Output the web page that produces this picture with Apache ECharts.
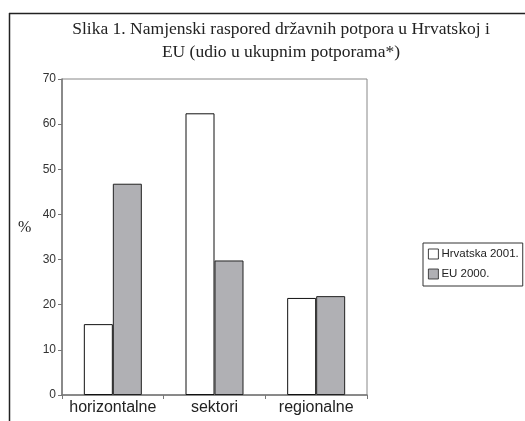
<!DOCTYPE html>
<html>
<head>
<meta charset="utf-8">
<script src="https://cdn.jsdelivr.net/npm/echarts@6/dist/echarts.min.js"></script>
<style>
  html, body { margin: 0; padding: 0; background: #fff; }
  #chart { width: 525px; height: 421px; }
</style>
</head>
<body>
<div id="chart"></div>
<script>
// Namjenski raspored državnih potpora (udio u ukupnim potporama, %)
const categories = ['horizontalne', 'sektori', 'regionalne'];
const hrvatska2001 = [15.7, 62.4, 21.5];
const eu2000 = [46.8, 29.8, 21.9];
const yTicks = { min: 0, max: 70, interval: 10 };

const chart = echarts.init(document.getElementById('chart'));
chart.setOption({
  backgroundColor: '#fff',
  animation: false,
  title: {
    text: 'Slika 1. Namjenski raspored državnih potpora u Hrvatskoj i\nEU (udio u ukupnim potporama*)',
    left: 276,
    textAlign: 'center',
    top: 13,
    textStyle: {
      fontFamily: 'Liberation Serif',
      fontWeight: 'normal',
      fontSize: 17.5,
      lineHeight: 23,
      color: '#222'
    }
  },
  graphic: [
    { type: 'line', shape: { x1: 9, y1: 13.5, x2: 525, y2: 13.5 }, style: { stroke: '#222', lineWidth: 1.5 } },
    { type: 'line', shape: { x1: 9.5, y1: 13, x2: 9.5, y2: 421 }, style: { stroke: '#222', lineWidth: 1.5 } },
    { type: 'text', left: 18, top: 220, style: { text: '%', font: '16px "Liberation Serif"', fill: '#222' } }
  ],
  legend: {
    orient: 'vertical',
    left: 423,
    top: 243,
    padding: [5, 4, 6, 5],
    itemGap: 8,
    itemWidth: 10,
    itemHeight: 10,
    borderColor: '#333',
    borderWidth: 1,
    icon: 'rect',
    itemStyle: { borderWidth: 0.8 },
    textStyle: { fontFamily: 'Liberation Sans', fontSize: 11.5, color: '#222', padding: [0, 0, 0, -2] },
    data: ['Hrvatska 2001.', 'EU 2000.']
  },
  grid: {
    left: 62, top: 79, width: 305, height: 316,
    show: true, borderColor: '#888', borderWidth: 1, backgroundColor: 'transparent'
  },
  xAxis: {
    type: 'category',
    data: categories,
    axisLine: { lineStyle: { color: '#777', width: 1.5 } },
    axisTick: { show: true, length: 4, lineStyle: { color: '#777' } },
    axisLabel: { interval: 0, fontFamily: 'Liberation Sans', fontSize: 16, color: '#222', margin: 5 }
  },
  yAxis: {
    type: 'value',
    min: yTicks.min, max: yTicks.max, interval: yTicks.interval,
    axisLine: { show: true, lineStyle: { color: '#777', width: 1.5 } },
    axisTick: { show: true, length: 4, lineStyle: { color: '#777' } },
    splitLine: { show: false },
    axisLabel: { fontFamily: 'Liberation Sans', fontSize: 12, color: '#333', margin: 6 }
  },
  series: [
    {
      name: 'Hrvatska 2001.',
      type: 'bar',
      data: hrvatska2001,
      barWidth: 29,
      barGap: '0%',
      itemStyle: { color: '#fff', borderColor: '#111', borderWidth: 1 }
    },
    {
      name: 'EU 2000.',
      type: 'bar',
      data: eu2000,
      barWidth: 29,
      barGap: '0%',
      itemStyle: { color: '#b0b0b4', borderColor: '#222', borderWidth: 1 }
    }
  ]
});
</script>
</body>
</html>
